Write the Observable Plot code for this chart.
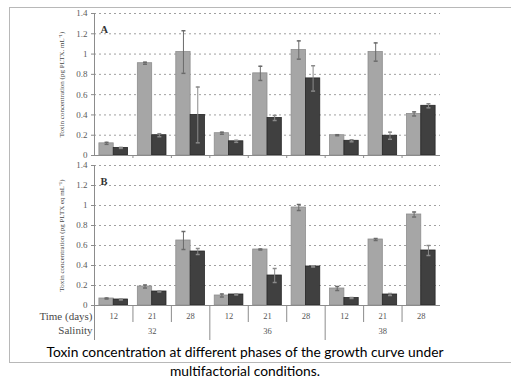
<!DOCTYPE html>
<html>
<head>
<meta charset="utf-8">
<script src="https://cdn.jsdelivr.net/npm/d3@7"></script>
<script src="https://cdn.jsdelivr.net/npm/@observablehq/plot@0.6"></script>
<style>
  html, body { margin: 0; padding: 0; background: #fff; overflow: hidden; }
  #wrap { position: relative; width: 511px; height: 378px; }
  #frame { position: absolute; left: 9px; top: 7px; width: 520px; height: 354px;
           border-top: 1px solid #b8b8b8; border-left: 1px solid #b8b8b8; border-bottom: 1px solid #b8b8b8; }
  #top { position: absolute; left: 0; top: 0; }
  #bottom { position: absolute; left: 0; top: 160px; }
  #caption { position: absolute; left: 0; top: 342px; width: 490px; text-align: center;
             font-family: Lato, "Open Sans", sans-serif; font-size: 13.8px; line-height: 19px; color: #000; }
</style>
</head>
<body>
<div id="wrap">
  <div id="frame"></div>
  <div id="top"></div>
  <div id="bottom"></div>
  <div id="caption">Toxin concentration at different phases of the growth curve under<br>multifactorial conditions.</div>
</div>
<script>
// ---- data ----
const days = [12, 21, 28, 12, 21, 28, 12, 21, 28];
const salinities = [32, 36, 38];
const yTicks = [0, 0.2, 0.4, 0.6, 0.8, 1, 1.2, 1.4];

const aLight    = [0.12, 0.91, 1.02, 0.22, 0.81, 1.04, 0.20, 1.02, 0.41];
const aLightErr = [0.01, 0.01, 0.21, 0.01, 0.07, 0.09, 0.005, 0.09, 0.02];
const aDark     = [0.075, 0.20, 0.40, 0.14, 0.37, 0.76, 0.145, 0.195, 0.49];
const aDarkErr  = [0.005, 0.015, 0.275, 0.01, 0.025, 0.125, 0.01, 0.035, 0.02];

const bLight    = [0.07, 0.19, 0.65, 0.10, 0.56, 0.98, 0.17, 0.66, 0.91];
const bLightErr = [0.005, 0.015, 0.09, 0.015, 0.005, 0.03, 0.02, 0.01, 0.025];
const bDark     = [0.06, 0.14, 0.54, 0.11, 0.30, 0.39, 0.075, 0.11, 0.55];
const bDarkErr  = [0.005, 0.005, 0.03, 0.005, 0.07, 0.005, 0.005, 0.01, 0.05];

const titleA = "Toxin concentration (pg PLTX. mL\u207B\u00B9)";
const titleB = "Toxin concentration (pg PLTX eq mL\u207B\u00B9)";

// ---- styling ----
const SERIF = "Liberation Serif, Times New Roman, serif";
const LIGHT = "#a6a6a6", LIGHT_STROKE = "#8e8e8e";
const DARK = "#404040", DARK_STROKE = "#262626";
const ERR = "#6a6a6a";
const AXIS = "#8c8c8c";

const capSymbol = {
  draw(ctx, size) {
    const w = Math.sqrt(size / Math.PI);
    ctx.moveTo(-w, 0); ctx.lineTo(w, 0);
  }
};

function rows(vals, errs) {
  return vals.map((v, i) => ({i, value: v, err: errs[i]}));
}

function panel({light, lightErr, dark, darkErr, letter, title, height, marginTop, marginBottom, bottomAxis}) {
  const L = rows(light, lightErr), D = rows(dark, darkErr);
  const groups = days.map((d, i) => ({i, day: d}));
  const marks = [
    Plot.gridY(yTicks.slice(1), {stroke: "#a0a0a0", strokeOpacity: 1, strokeDasharray: "2,3", strokeWidth: 1}),
    Plot.axisY({ticks: yTicks, tickSize: 3, tickPadding: 4, stroke: AXIS,
      tickFormat: d => String(+d.toFixed(1)), fontFamily: SERIF, fontSize: 9, color: "#5a5a5a", label: null}),
    Plot.ruleX([0], {y1: 0, y2: 1.4, stroke: AXIS}),
    Plot.rectY(L, {x1: "i", x2: d => d.i + 0.5, y: "value", insetLeft: 4.9, fill: LIGHT, stroke: LIGHT_STROKE, strokeWidth: 0.8}),
    Plot.rectY(D, {x1: d => d.i + 0.5, x2: d => d.i + 1, y: "value", insetRight: 4.9, fill: DARK, stroke: DARK_STROKE, strokeWidth: 0.8}),
    Plot.ruleX(L, {x: d => d.i + 0.25, dx: 2.45, y1: d => d.value - d.err, y2: d => d.value + d.err, stroke: ERR, strokeWidth: 1}),
    Plot.ruleX(D, {x: d => d.i + 0.75, dx: -2.45, y1: d => d.value - d.err, y2: d => d.value + d.err, stroke: "#8a8a8a", strokeWidth: 1}),
    Plot.dot(L, {x: d => d.i + 0.25, dx: 2.45, y: d => d.value + d.err, r: 2, symbol: capSymbol, stroke: ERR, fill: "none"}),
    Plot.dot(L, {x: d => d.i + 0.25, dx: 2.45, y: d => d.value - d.err, r: 2, symbol: capSymbol, stroke: ERR, fill: "none"}),
    Plot.dot(D, {x: d => d.i + 0.75, dx: -2.45, y: d => d.value + d.err, r: 2, symbol: capSymbol, stroke: "#8a8a8a", fill: "none"}),
    Plot.dot(D, {x: d => d.i + 0.75, dx: -2.45, y: d => d.value - d.err, r: 2, symbol: capSymbol, stroke: "#8a8a8a", fill: "none"}),
    Plot.ruleY([0], {x1: 0, x2: 9, stroke: AXIS, strokeWidth: 1.2}),
    Plot.text([letter], {frameAnchor: "top-left", dx: 6, dy: 12, fontFamily: SERIF, fontWeight: "bold", fontSize: 10.5, fill: "#333"}),
    Plot.text([title], {frameAnchor: "left", textAnchor: "middle", dx: -33, rotate: -90, fontFamily: SERIF, fontSize: 7, fill: "#444"})
  ];
  if (bottomAxis) {
    marks.push(
      Plot.axisX({ticks: [1, 2, 4, 5, 7, 8], tickSize: 17, tickFormat: () => "", stroke: AXIS, label: null}),
      Plot.axisX({ticks: [0, 3, 6], tickSize: 35, tickFormat: () => "", stroke: AXIS, label: null}),
      Plot.text(groups, {x: d => d.i + 0.5, text: "day", frameAnchor: "bottom", dy: 13, fontFamily: SERIF, fontSize: 8.5, fill: "#555"}),
      Plot.text(salinities, {x: (d, i) => i * 3 + 1.5, text: d => String(d), frameAnchor: "bottom", dy: 28, fontFamily: SERIF, fontSize: 8.5, fill: "#555"}),
      Plot.text(["Time (days)"], {x: [0], frameAnchor: "bottom", dy: 14, dx: -2, textAnchor: "end", fontFamily: SERIF, fontSize: 11, fill: "#4a4a4a"}),
      Plot.text(["Salinity"], {x: [0], frameAnchor: "bottom", dy: 28.5, dx: -2, textAnchor: "end", fontFamily: SERIF, fontSize: 11, fill: "#4a4a4a"})
    );
  } else {
    marks.push(Plot.axisX({ticks: [1, 2, 3, 4, 5, 6, 7, 8], tickSize: 3, tickFormat: () => "", stroke: AXIS, label: null}));
  }
  return Plot.plot({
    width: 511, height, marginLeft: 94, marginRight: 71, marginTop, marginBottom,
    x: {type: "linear", domain: [0, 9], axis: null},
    y: {domain: [0, 1.4], axis: null},
    style: {background: "transparent", overflow: "visible"},
    marks
  });
}

document.getElementById("top").append(panel({
  light: aLight, lightErr: aLightErr, dark: aDark, darkErr: aDarkErr,
  letter: "A", title: titleA, height: 160, marginTop: 13, marginBottom: 5, bottomAxis: false
}));
document.getElementById("bottom").append(panel({
  light: bLight, lightErr: bLightErr, dark: bDark, darkErr: bDarkErr,
  letter: "B", title: titleB, height: 185, marginTop: 5, marginBottom: 40, bottomAxis: true
}));
</script>
</body>
</html>
